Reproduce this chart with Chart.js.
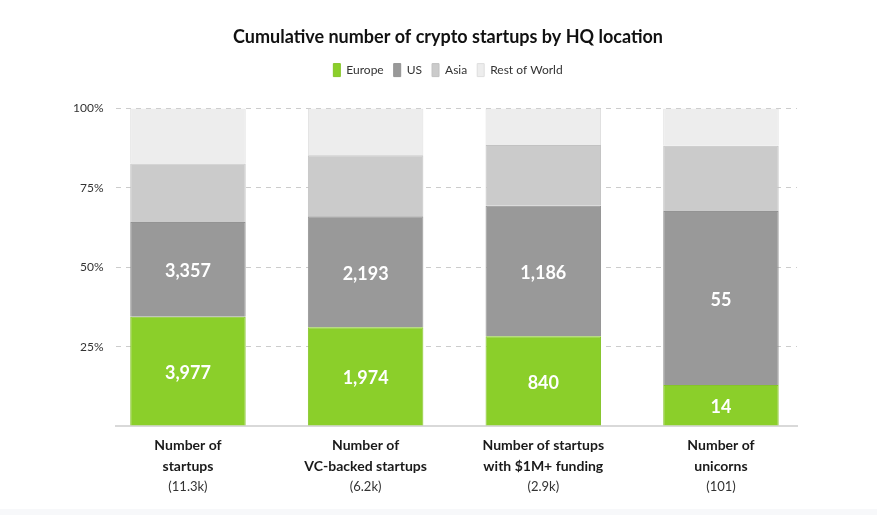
<!DOCTYPE html>
<html><head><meta charset="utf-8">
<script src="https://cdn.jsdelivr.net/npm/chart.js@4/dist/chart.umd.min.js"></script>
<style>
html,body{margin:0;padding:0;background:#f7f8fa;}
#wrap{width:877px;height:509px;background:#fff;}
canvas{display:block;}
</style></head><body>
<div id="wrap"><canvas id="c" width="877" height="509"></canvas></div>
<script>
// ---- data ----
const categoryLines = [['Number of','startups'],['Number of','VC-backed startups'],['Number of startups','with $1M+ funding'],['Number of','unicorns']];
const categoryTotals = ['(11.3k)','(6.2k)','(2.9k)','(101)'];
const seriesNames = ['Europe','US','Asia','Rest of World'];
const europeShare = [34.4, 31.1, 28.3, 12.9];
const usShare = [29.9, 35.0, 41.1, 54.8];
const asiaShare = [18.4, 19.2, 19.1, 20.6];
const restShare = [17.3, 14.7, 11.5, 11.7];
const europeCount = ['3,977','1,974','840','14'];
const usCount = ['3,357','2,193','1,186','55'];
const yTickValues = [25, 50, 75, 100];

const FONT = 'Lato';
const toXY = arr => arr.map((v, i) => ({x: i, y: v}));
const segLabels = [europeCount, usCount, null, null];

const segLabelPlugin = {
  id: 'segLabels',
  afterDatasetsDraw(chart) {
    const ctx = chart.ctx;
    ctx.save();
    ctx.fillStyle = '#ffffff';
    ctx.font = 'bold 18px ' + FONT;
    ctx.textAlign = 'center';
    ctx.textBaseline = 'middle';
    segLabels.forEach((labels, di) => {
      if (!labels) return;
      chart.getDatasetMeta(di).data.forEach((el, i) => {
        const p = el.getProps(['x','y','base'], true);
        ctx.fillText(labels[i], p.x, (p.y + p.base) / 2 + 2);
      });
    });
    ctx.restore();
  }
};

const xLabelPlugin = {
  id: 'xLabels',
  afterDraw(chart) {
    const ctx = chart.ctx;
    const xs = chart.scales.x;
    const bottom = chart.chartArea.bottom;
    ctx.save();
    ctx.textAlign = 'center';
    ctx.textBaseline = 'middle';
    categoryLines.forEach((lines, i) => {
      const x = xs.getPixelForValue(i);
      ctx.fillStyle = '#1a1a1a';
      ctx.font = 'bold 14px ' + FONT;
      lines.forEach((t, li) => ctx.fillText(t, x, bottom + 19 + li * 21));
      ctx.fillStyle = '#333333';
      ctx.font = '13px ' + FONT;
      ctx.fillText(categoryTotals[i], x, bottom + 19 + lines.length * 21);
    });
    ctx.restore();
  }
};

const legendGapPlugin = {
  id: 'legendGap',
  beforeInit(chart) {
    const lg = chart.legend;
    if (!lg) return;
    const f = lg.fit;
    lg.fit = function () { f.call(this); this.height += 22; };
  }
};

const colors = ['#8bcf2a', '#999999', '#cbcbcb', '#ededed'];
const borders = ['#86c42a', '#939393', '#c2c2c2', '#dedede'];
const shares = [europeShare, usShare, asiaShare, restShare];

new Chart(document.getElementById('c'), {
  type: 'bar',
  data: {
    datasets: seriesNames.map((name, k) => ({
      label: name,
      data: toXY(shares[k]),
      backgroundColor: colors[k],
      borderColor: borders[k],
      borderWidth: 1,
      categoryPercentage: 1,
      barPercentage: 0.65
    }))
  },
  options: {
    responsive: false,
    animation: false,
    layout: {padding: {left: 99, right: 80, top: 16, bottom: 0}},
    plugins: {
      tooltip: {enabled: false},
      title: {
        display: true,
        text: 'Cumulative number of crypto startups by HQ location',
        color: '#111111',
        font: {family: FONT, size: 18, weight: 'bold'},
        padding: {top: 10, bottom: 6}
      },
      legend: {
        display: true,
        labels: {
          boxWidth: 7, boxHeight: 13,
          color: '#333333',
          font: {family: FONT, size: 12},
          padding: 10
        }
      }
    },
    scales: {
      x: {
        type: 'linear',
        stacked: true,
        offset: false,
        min: -0.405,
        max: 3.428,
        afterBuildTicks: s => { s.ticks = categoryLines.map((_, i) => ({value: i})); },
        afterFit: s => { s.height = 83; },
        grid: {display: false},
        ticks: {display: false},
        border: {display: true, color: '#d9d9d9', width: 2}
      },
      y: {
        stacked: true,
        min: 0,
        max: 100,
        afterFit: s => { s.width = 17; },
        afterBuildTicks: s => { s.ticks = [0].concat(yTickValues).map(v => ({value: v})); },
        ticks: {
          mirror: true,
          crossAlign: 'far',
          padding: -43,
          color: '#333333',
          font: {family: FONT, size: 12},
          callback: v => yTickValues.includes(v) ? v + '%' : ''
        },
        grid: {
          drawTicks: false,
          color: ctx => ctx.tick && ctx.tick.value === 0 ? 'rgba(0,0,0,0)' : '#cccccc',
          lineWidth: 1
        },
        border: {display: false, dash: [5, 5]}
      }
    }
  },
  plugins: [segLabelPlugin, xLabelPlugin, legendGapPlugin]
});
</script>
</body></html>
